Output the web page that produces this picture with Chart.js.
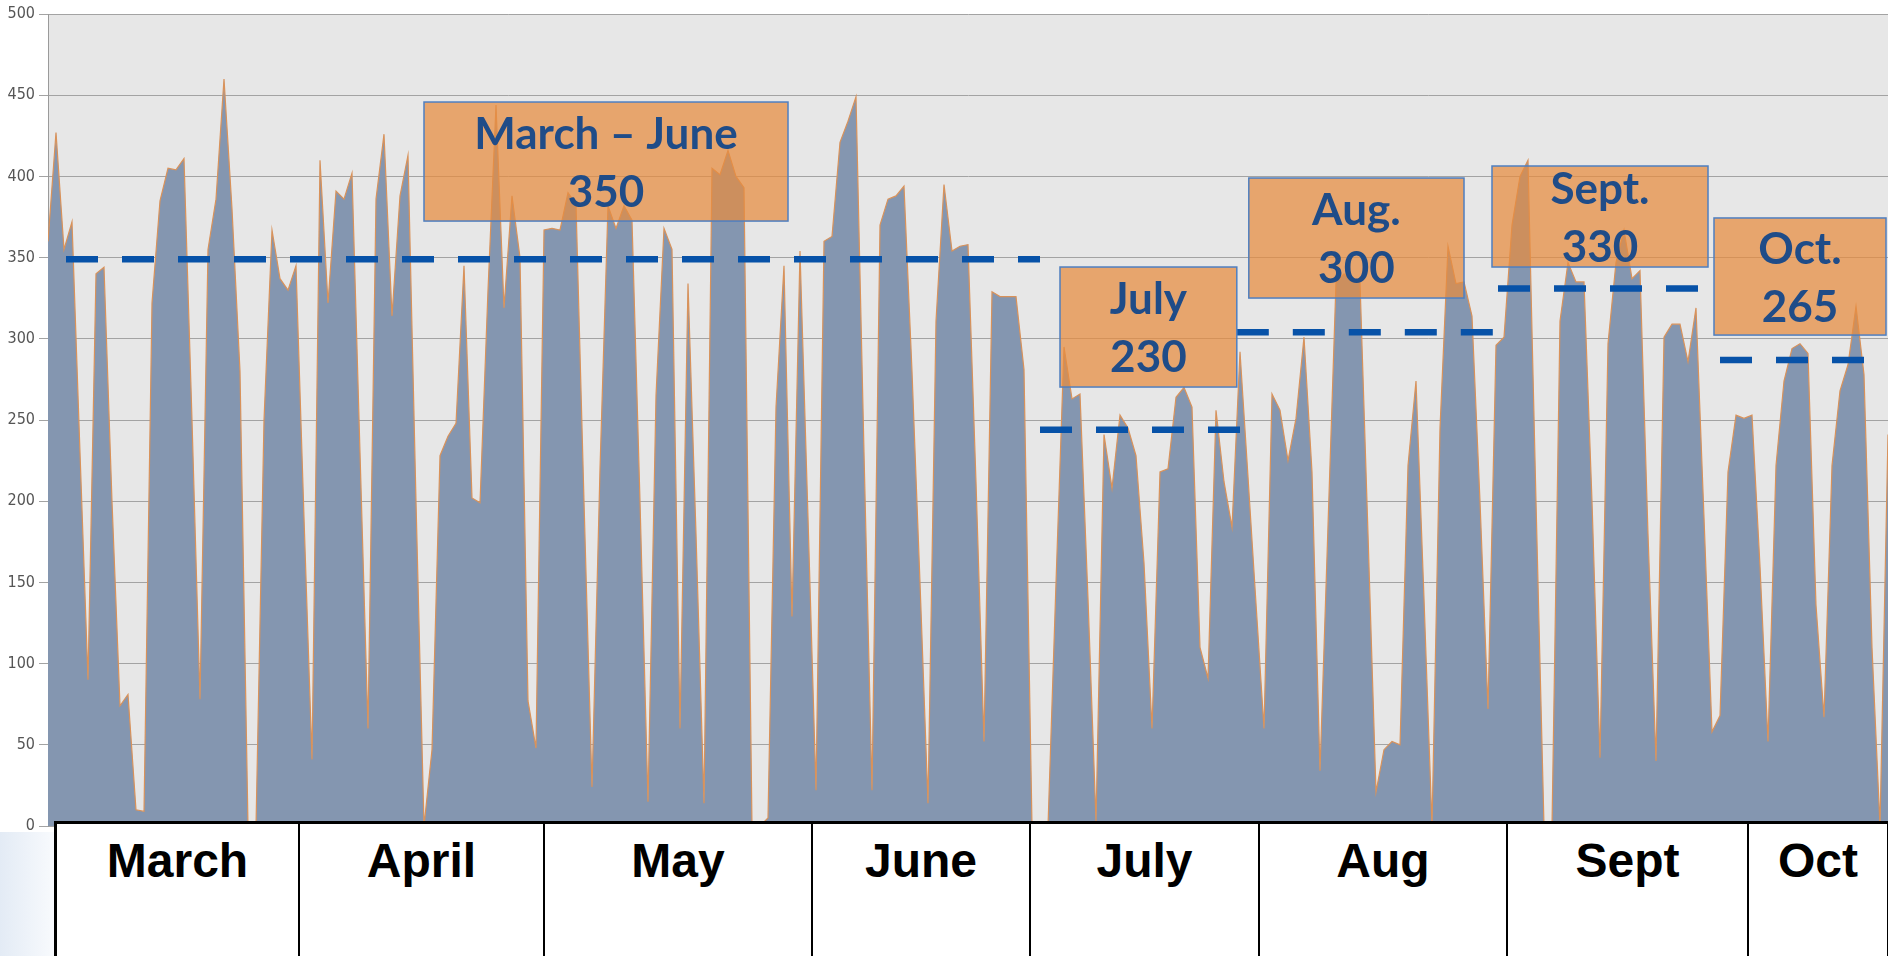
<!DOCTYPE html>
<html>
<head>
<meta charset="utf-8">
<script src="https://cdn.jsdelivr.net/npm/chart.js@4.4.1/dist/chart.umd.min.js"></script>
<style>
  html, body { margin: 0; padding: 0; background: #fff; overflow: hidden; }
  #wrap { position: relative; width: 1888px; height: 956px; }
  #corner { position: absolute; left: 0; top: 832px; width: 54px; height: 124px;
            background: linear-gradient(to right, #e3ebf5, #f8fafd); }
  #months { position: absolute; left: 54px; top: 821px; height: 150px; display: flex;
            border-top: 3px solid #000; border-left: 3px solid #000; background: #fff; }
  #months div { box-sizing: border-box; border-right: 2.5px solid #000; text-align: center;
                font: bold 48px "Liberation Sans", Arial, sans-serif; line-height: 58px; padding-top: 8px; color: #000; }
</style>
</head>
<body>
<div id="wrap">
  <div id="corner"></div>
  <canvas id="c" width="1888" height="956"></canvas>
  <div id="months"></div>
</div>
<script>
// daily values, 1 March .. mid October
const daily = [
  360, 427, 355, 372, 230, 90, 340, 344, 200, 74, 81, 10, 9, 322, 385, 405, 404, 411, 250, 78,
  355, 386, 460, 380, 280, 0, 0, 250, 367, 337, 330, 345, 190, 41, 410, 322, 391, 386, 402, 230,
  60, 386, 426, 314, 388, 413, 200, 0, 47, 228, 240, 248, 345, 202, 199, 330, 444, 319, 388, 350,
  77, 48, 367, 368, 367, 390, 383, 200, 24, 220, 382, 368, 382, 373, 200, 15, 265, 368, 355, 60,
  334, 180, 14, 405, 401, 416, 400, 393, 0, 0, 5, 258, 345, 129, 354, 190, 22, 360, 363, 421,
  434, 449, 230, 22, 370, 386, 388, 394, 280, 150, 14, 311, 395, 354, 357, 358, 212, 52, 329, 326,
  326, 326, 281, 0, 0, 0, 150, 295, 263, 266, 140, 3, 241, 208, 253, 245, 228, 162, 60, 218,
  220, 264, 270, 258, 110, 91, 256, 212, 184, 292, 215, 137, 60, 266, 256, 225, 251, 301, 218, 34,
  185, 335, 340, 335, 335, 180, 21, 47, 52, 50, 222, 274, 140, 0, 245, 357, 334, 335, 314, 200,
  72, 296, 301, 370, 400, 410, 200, 0, 0, 311, 347, 335, 335, 200, 42, 297, 347, 367, 337, 342,
  180, 40, 301, 309, 309, 286, 319, 190, 58, 68, 218, 253, 251, 253, 160, 52, 222, 274, 294, 297,
  291, 136, 67, 222, 268, 284, 320, 278, 110, 0, 241
];

// period averages (dashed lines): level and day span
const avgLevel = [349, 244, 304, 331, 287];
const avgFrom  = [2.25, 124, 148.6, 181.25, 209];
const avgTo    = [124, 149, 180.6, 206.25, 227];

// annotation texts
const boxTitles = ['March \u2013 June', 'July', 'Aug.', 'Sept.', 'Oct.'];
const boxValues = ['350', '230', '300', '330', '265'];

// month table under the chart
const monthNames = ['March', 'April', 'May', 'June', 'July', 'Aug', 'Sept', 'Oct'];
const monthWidths = [243, 245, 268, 218, 229, 248, 241, 140];

const yTicks = { min: 0, max: 500, step: 50 };

// box extents in data units [x0, x1, yBottom, yTop]
const boxRects = [
  [47, 92.5, 372.5, 445.8],
  [126.5, 148.6, 270.3, 344.2],
  [150.1, 177, 325.1, 399],
  [180.5, 207.5, 344.2, 406.4],
  [208.25, 229.75, 302.3, 374.4]
];

const tbl = document.getElementById('months');
monthNames.forEach((m, i) => {
  const d = document.createElement('div');
  d.style.width = monthWidths[i] + 'px';
  d.textContent = m;
  tbl.appendChild(d);
});

const plotBg = {
  id: 'plotBg',
  beforeDraw(chart) {
    const { ctx, chartArea: a } = chart;
    ctx.save();
    ctx.fillStyle = '#e7e7e7';
    ctx.fillRect(a.left, a.top, a.right - a.left, a.bottom - a.top);
    ctx.restore();
  }
};

const avgBoxes = {
  id: 'avgBoxes',
  afterDatasetsDraw(chart) {
    const { ctx, scales: { x, y } } = chart;
    ctx.save();
    boxRects.forEach((r, k) => {
      const l = x.getPixelForValue(r[0]), rt = x.getPixelForValue(r[1]);
      const t = y.getPixelForValue(r[3]), b = y.getPixelForValue(r[2]);
      ctx.fillStyle = 'rgba(232,140,62,0.72)';
      ctx.fillRect(l, t, rt - l, b - t);
      ctx.strokeStyle = '#4f7fc0';
      ctx.lineWidth = 1.5;
      ctx.strokeRect(l, t, rt - l, b - t);
      const cx = (l + rt) / 2, cy = (t + b) / 2 + 2;
      ctx.fillStyle = '#1f4c88';
      ctx.font = 'bold 44px Lato, "Open Sans", sans-serif';
      ctx.textAlign = 'center';
      ctx.textBaseline = 'middle';
      ctx.fillText(boxTitles[k], cx, cy - 29);
      ctx.fillText(boxValues[k], cx, cy + 29);
    });
    ctx.restore();
  }
};

const avgSets = avgLevel.map((v, k) => ({
  type: 'line',
  data: [{ x: avgFrom[k], y: v }, { x: avgTo[k], y: v }],
  borderColor: '#0752a8',
  borderWidth: 6.5,
  borderDash: [32, 24],
  borderCapStyle: 'butt',
  pointRadius: 0,
  fill: false
}));

new Chart(document.getElementById('c'), {
  type: 'line',
  data: {
    datasets: [
      ...avgSets,
      {
        data: daily.map((v, i) => ({ x: i, y: v })),
        borderColor: '#d9925a',
        borderWidth: 1.2,
        backgroundColor: '#8496b0',
        fill: 'origin',
        pointRadius: 0,
        tension: 0
      }
    ]
  },
  options: {
    responsive: false,
    animation: false,
    devicePixelRatio: 1,
    layout: { padding: { left: 0, top: 14, right: 0, bottom: 130 } },
    plugins: { legend: { display: false }, tooltip: { enabled: false } },
    scales: {
      x: { type: 'linear', min: 0, max: daily.length - 1, display: false },
      y: {
        min: yTicks.min, max: yTicks.max,
        ticks: { stepSize: yTicks.step, color: '#555555', padding: 4,
                 font: { family: '"Liberation Sans Narrow", "DejaVu Sans Condensed", "Liberation Sans", sans-serif', size: 16 } },
        grid: { color: '#a3a3a3', lineWidth: 1, tickLength: 9 },
        border: { display: true, color: '#9a9a9a' },
        afterFit(s) { s.width = 48; }
      }
    }
  },
  plugins: [plotBg, avgBoxes]
});
</script>
</body>
</html>
